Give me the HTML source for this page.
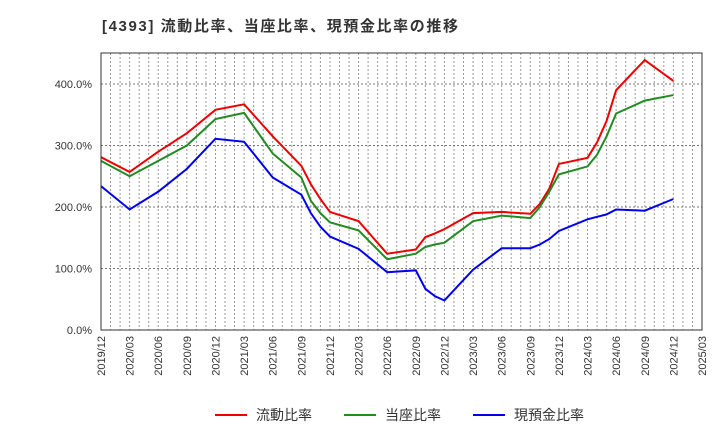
<!DOCTYPE html>
<html><head><meta charset="utf-8"><style>
body{margin:0;background:#fff;font-family:"Liberation Sans","Noto Sans CJK JP",sans-serif;}
</style></head><body>
<svg id="chart" width="720" height="440" xmlns="http://www.w3.org/2000/svg" font-family="Liberation Sans, Noto Sans CJK JP, sans-serif">
<text x="102" y="31" font-size="15" font-weight="bold" fill="#333" textLength="356" lengthAdjust="spacing">[4393]  流動比率、当座比率、現預金比率の推移</text>
<g id="grid"></g><g id="axes"></g><g id="series"></g>
<rect x="101" y="53" width="601" height="277" fill="none" stroke="#333" stroke-width="1"/>
<g font-size="14" fill="#333">
<line x1="215" y1="415" x2="247" y2="415" stroke="#ee0000" stroke-width="2"/>
<text x="256" y="420">流動比率</text>
<line x1="344" y1="415" x2="376" y2="415" stroke="#228b22" stroke-width="2"/>
<text x="385" y="420">当座比率</text>
<line x1="473" y1="415" x2="505" y2="415" stroke="#0000ee" stroke-width="2"/>
<text x="514" y="420">現預金比率</text>
</g>
</svg>
<script>
const xTickLabels=["2019/12","2020/03","2020/06","2020/09","2020/12","2021/03","2021/06","2021/09","2021/12","2022/03","2022/06","2022/09","2022/12","2023/03","2023/06","2023/09","2023/12","2024/03","2024/06","2024/09","2024/12","2025/03"];
const yTicks=[0,100,200,300,400];
const monthIdx=[0,3,6,9,12,15,18,21,22,23,24,27,30,33,34,35,36,39,42,45,46,47,48,51,52,53,54,57,60];
const currentRatio=[281,257,290,320,358,367,315,267,237,213,192,177,124,131,151,157,164,190,192,189,205,230,270,280,305,340,390,439,405];
const quickRatio=[275,250,275,300,343,353,287,248,210,190,175,162,115,124,135,139,142,177,186,182,200,225,253,266,285,315,352,373,382];
const cashRatio=[234,196,225,262,311,306,248,220,190,168,152,132,94,97,67,55,48,98,133,133,139,148,161,180,184,188,196,194,213];
const X0=101,X1=702,Y0=330,Y1=53,totalMonths=63;
const xs=m=>X0+m*(X1-X0)/totalMonths;
const ys=v=>Y0-v*0.615;
const NS="http://www.w3.org/2000/svg";
const grid=document.getElementById('grid'),axes=document.getElementById('axes'),ser=document.getElementById('series');
for(let m=1;m<totalMonths;m++){const l=document.createElementNS(NS,'line');


l.setAttribute('x1',xs(m));l.setAttribute('x2',xs(m));l.setAttribute('y1',Y1);l.setAttribute('y2',Y0);
l.setAttribute('stroke','#999');l.setAttribute('stroke-dasharray','2,2');l.setAttribute('stroke-width','1');grid.appendChild(l);}
for(const v of yTicks){const y=ys(v);
if(v>0){const l=document.createElementNS(NS,'line');


l.setAttribute('x1',X0);l.setAttribute('x2',X1);l.setAttribute('y1',y);l.setAttribute('y2',y);
l.setAttribute('stroke','#777');l.setAttribute('stroke-dasharray','2,2');grid.appendChild(l);}
const t=document.createElementNS(NS,'text');


t.setAttribute('x',92);t.setAttribute('y',y+4);t.setAttribute('text-anchor','end');t.setAttribute('font-size','11');t.setAttribute('fill','#333');
t.textContent=v.toFixed(1)+'%';axes.appendChild(t);}
xTickLabels.forEach((s,i)=>{const x=xs(i*3);
const t=document.createElementNS(NS,'text');


t.setAttribute('font-size','11');t.setAttribute('fill','#333');t.setAttribute('text-anchor','end');
t.setAttribute('transform',`translate(${x+4},336) rotate(-90)`);t.textContent=s;axes.appendChild(t);});
function drawSeries(vals,color,name){const p=document.createElementNS(NS,'polyline');


p.setAttribute('points',vals.map((v,i)=>xs(monthIdx[i])+','+ys(v)).join(' '));
p.setAttribute('fill','none');p.setAttribute('stroke',color);p.setAttribute('stroke-width','2');ser.appendChild(p);}
drawSeries(currentRatio,'#ee0000','current-ratio-line');
drawSeries(quickRatio,'#228b22','quick-ratio-line');
drawSeries(cashRatio,'#0000ee','cash-ratio-line');
</script>
</body></html>
